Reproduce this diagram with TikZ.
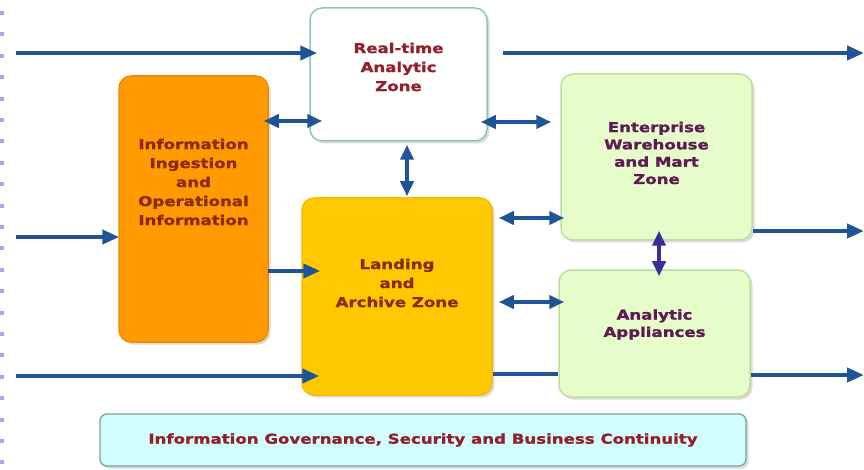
\documentclass[tikz,border=0pt]{standalone}
\usepackage{fontspec}
\newfontfamily\lblfont{DejaVu Sans}[FakeStretch=1.23, BoldFeatures={FakeBold=1.3}]
\usetikzlibrary{arrows.meta,shadows}
\definecolor{arrblue}{HTML}{1F5596}
\definecolor{arrpurple}{HTML}{3B2F95}
\definecolor{rtborder}{HTML}{88C6C6}
\definecolor{ingfill}{HTML}{FF9A00}
\definecolor{ingborder}{HTML}{F28A00}
\definecolor{landfill}{HTML}{FFC800}
\definecolor{landborder}{HTML}{F5BE00}
\definecolor{grnfill}{HTML}{E6FDCB}
\definecolor{grnborder}{HTML}{BCE09A}
\definecolor{govfill}{HTML}{D2FDFD}
\definecolor{govborder}{HTML}{7F9CAA}
\definecolor{dashcol}{HTML}{A8A8F2}
\definecolor{txtred}{HTML}{92202C}
\definecolor{txtbrown}{HTML}{8A2A10}
\definecolor{txtpurple}{HTML}{5E1A52}
\begin{document}
\begin{tikzpicture}[x=1pt,y=-1pt,
  box/.style={draw, rounded corners=12pt, line width=1.5pt, inner sep=0pt,
    drop shadow={shadow xshift=2.5pt, shadow yshift=-2.5pt, fill=black!35, opacity=0.4}},
  txt/.style={font=\lblfont\bfseries\fontsize{13.5}{19}\selectfont, align=center, inner sep=0pt},
  txtg/.style={font=\lblfont\bfseries\fontsize{13.5}{17.3}\selectfont, align=center, inner sep=0pt},
  arr/.style={draw=arrblue, line width=4pt, -{Triangle[length=17pt,width=14pt]}},
  darr/.style={draw=arrblue, line width=4pt, {Triangle[length=15pt,width=13pt]}-{Triangle[length=15pt,width=13pt]}},
  plain/.style={draw=arrblue, line width=4pt},
  dashline/.style={draw=dashcol, line width=4pt, dash pattern=on 4pt off 17.4pt}]
\useasboundingbox (0,0) rectangle (864,470);
\fill[white] (0,0) rectangle (864,470);

% left dashed edge
\coordinate (dtop) at (2,11);
\coordinate (dbot) at (2,468);
\draw[dashline] (dtop) -- (dbot);

% boxes
\node[box, draw=rtborder, fill=white, minimum width=177pt, minimum height=133pt] (rt) at (398.5,74.5) {};
\node[box, draw=ingborder, fill=ingfill, minimum width=149pt, minimum height=266pt] (ing) at (193.5,209) {};
\node[box, draw=landborder, fill=landfill, minimum width=190pt, minimum height=197pt] (land) at (397,296.5) {};
\node[box, draw=grnborder, fill=grnfill, minimum width=191pt, minimum height=166pt] (ew) at (656.5,157) {};
\node[box, draw=grnborder, fill=grnfill, minimum width=191pt, minimum height=127pt] (aa) at (654.5,333.5) {};
\node[box, draw=govborder, fill=govfill, rounded corners=7pt, line width=1.3pt, minimum width=646pt, minimum height=52pt] (gov) at (423,440) {};

% labels
\node[txt, text=txtred] (rtl) at (398.5,67) {Real-time\\Analytic\\Zone};
\node[txt, text=txtbrown] (ingl) at (193.5,182) {Information\\Ingestion\\and\\Operational\\Information};
\node[txt, text=txtbrown] (landl) at (397,283) {Landing\\and\\Archive Zone};
\node[txtg, text=txtpurple] (ewl) at (656.5,153) {Enterprise\\Warehouse\\and Mart\\Zone};
\node[txtg, text=txtpurple] (aal) at (654.5,324.5) {Analytic\\Appliances};
\node[txt, text=txtred] (govl) at (423,440) {Information Governance, Security and Business Continuity};

% helper coordinates
\coordinate (l53) at (16,53);
\coordinate (s53) at (503,53);
\coordinate (e53) at (864,53);
\coordinate (r121) at (0,121);
\coordinate (r122) at (0,122);
\coordinate (l237) at (16,237);
\coordinate (r271) at (0,271);
\coordinate (r218) at (0,218);
\coordinate (r231) at (0,231);
\coordinate (e231) at (864,231);
\coordinate (r302) at (0,302);
\coordinate (l376) at (16,376);
\coordinate (r374) at (0,374);
\coordinate (r375) at (0,375);
\coordinate (e375) at (864,375);
\coordinate (c407) at (407,0);
\coordinate (c659) at (659,0);

% connectors
\draw[arr] (l53) -- ([xshift=8pt]l53 -| rt.west);
\draw[arr] (s53) -- (e53);
\draw[darr] ([xshift=-5pt]ing.east |- r121) -- ([xshift=13pt]rt.west |- r121);
\draw[darr] ([xshift=-7pt]rt.east |- r122) -- ([xshift=-9pt]ew.west |- r122);
\draw[darr] ([yshift=-3pt]c407 |- rt.south) -- ([yshift=1pt]c407 |- land.north);
\draw[arr] (l237) -- ([xshift=1pt]l237 -| ing.west);
\draw[arr] ([xshift=-1pt]ing.east |- r271) -- ([xshift=19pt]land.west |- r271);
\draw[darr] ([xshift=6pt]land.east |- r218) -- ([xshift=4pt]ew.west |- r218);
\draw[arr] (ew.east |- r231) -- (e231);
\draw[darr, draw=arrpurple] ([yshift=10pt]c659 |- ew.south) -- ([yshift=-7pt]c659 |- aa.north);
\draw[darr] ([xshift=6pt]land.east |- r302) -- ([xshift=6pt]aa.west |- r302);
\draw[arr] (l376) -- ([xshift=18pt]l376 -| land.west);
\draw[plain] (land.east |- r374) -- (aa.west |- r374);
\draw[arr] (aa.east |- r375) -- (e375);
\end{tikzpicture}
\end{document}
